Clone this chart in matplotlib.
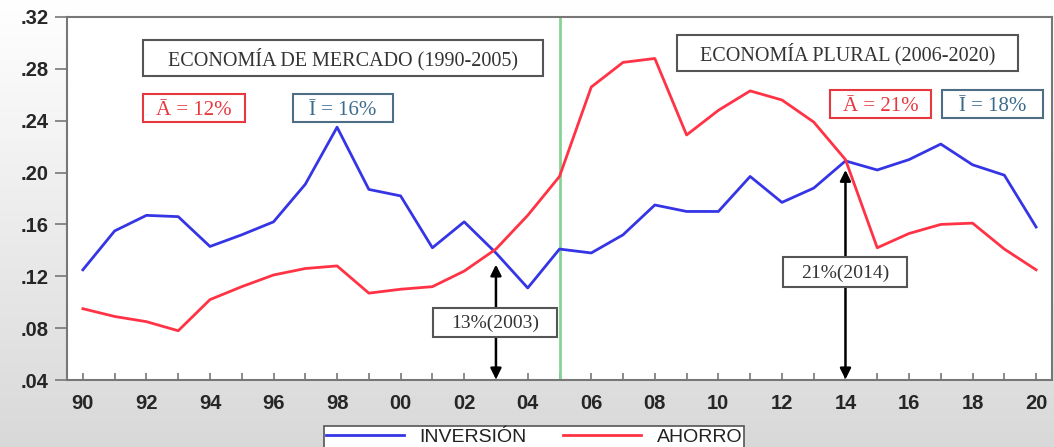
import matplotlib
matplotlib.use("Agg")
import matplotlib.pyplot as plt
import numpy as np
from matplotlib.patches import Rectangle

years = list(range(1990, 2021))
inversion = [0.125, 0.155, 0.167, 0.166, 0.143, 0.152, 0.162, 0.191, 0.235, 0.187,
             0.182, 0.142, 0.162, 0.138, 0.111, 0.141, 0.138, 0.152, 0.175, 0.170,
             0.170, 0.197, 0.177, 0.188, 0.209, 0.202, 0.210, 0.222, 0.206, 0.198, 0.158]
ahorro = [0.095, 0.089, 0.085, 0.078, 0.102, 0.112, 0.121, 0.126, 0.128, 0.107,
          0.110, 0.112, 0.124, 0.141, 0.167, 0.197, 0.266, 0.285, 0.288, 0.229,
          0.248, 0.263, 0.256, 0.239, 0.210, 0.142, 0.153, 0.160, 0.161, 0.141, 0.125]
yticks = [0.04, 0.08, 0.12, 0.16, 0.20, 0.24, 0.28, 0.32]
ytick_labels = [".04", ".08", ".12", ".16", ".20", ".24", ".28", ".32"]
xtick_years = list(range(1990, 2021, 2))
xtick_labels = ["90", "92", "94", "96", "98", "00", "02", "04", "06", "08",
                "10", "12", "14", "16", "18", "20"]
split_year = 2005
cross1 = (2003, 0.129, "13%(2003)")
cross2 = (2014, 0.202, "21%(2014)")

W, H = 1054, 447
fig = plt.figure(figsize=(W / 100, H / 100), dpi=100)

# gradient background
bg = fig.add_axes([0, 0, 1, 1], zorder=-10)
grad = np.linspace(1.0, 0.85, 256).reshape(-1, 1)
bg.imshow(np.dstack([grad, grad, grad]), aspect="auto", extent=[0, 1, 0, 1], origin="upper")
bg.axis("off")

L, R, T, B = 67, 1052, 17, 380
ax = fig.add_axes([L / W, 1 - B / H, (R - L) / W, (B - T) / H])
ax.set_facecolor("white")

blue = "#3535e6"
red = "#ff3345"
ax.plot(years, inversion, color=blue, lw=2.0, label="INVERSIÓN", zorder=3)
ax.plot(years, ahorro, color=red, lw=2.0, label="AHORRO", zorder=3)
ax.axvline(split_year, color="#86d396", lw=2.0, zorder=2)

ax.set_xlim(1989.5, 2020.5)
ax.set_ylim(0.04, 0.32)
ax.set_yticks(yticks)
ax.set_yticklabels(ytick_labels)
ax.set_xticks(xtick_years)
ax.set_xticklabels(xtick_labels)
ax.set_xticks(years, minor=True)
for lab in ax.get_xticklabels() + ax.get_yticklabels():
    lab.set_fontfamily("Liberation Sans")
    lab.set_fontweight("bold")
    lab.set_fontsize(14.5)
    lab.set_color("#262626")
ax.tick_params(axis="y", direction="out", length=9, width=1.2, color="#777777", pad=4)
ax.tick_params(axis="x", which="both", direction="in", length=5, width=1.2, color="#777777", pad=10)
for s in ax.spines.values():
    s.set_color("#777777")
    s.set_linewidth(1.5)


def px(x, y):
    return ((x - L) / (R - L), (B - y) / (B - T))


def box(x0, y0, x1, y1, text, tcolor, ecolor, fs, dy=0.0):
    a0 = px(x0, y1)
    a1 = px(x1, y0)
    ax.add_patch(Rectangle(a0, a1[0] - a0[0], a1[1] - a0[1], transform=ax.transAxes,
                           facecolor="white", edgecolor=ecolor, lw=1.5, zorder=5))
    cx, cy = px((x0 + x1) / 2, (y0 + y1) / 2 + dy)
    ax.text(cx, cy, text, transform=ax.transAxes, ha="center", va="center",
            fontsize=fs, family="Liberation Serif", color=tcolor, zorder=6)


# arrows
for yr, top, lab in [cross1, cross2]:
    ax.annotate("", xy=(yr, top), xytext=(yr, 0.0405),
                arrowprops=dict(arrowstyle="<|-|>", color="black", lw=1.8,
                                mutation_scale=16, shrinkA=0, shrinkB=0), zorder=4)

box(143, 40, 543, 76, "ECONOMÍA DE MERCADO (1990-2005)", "#333333", "#555555", 14.5, dy=1)
box(677, 35, 1018, 71, "ECONOMÍA PLURAL (2006-2020)", "#333333", "#555555", 14.5, dy=1)
box(143, 94, 245, 122, "Ā = 12%", "#e8383f", "#e8383f", 15, dy=3)
box(293, 94, 393, 122, "Ī = 16%", "#3d6b8c", "#4e6e85", 15, dy=3)
box(830, 90, 931, 118, "Ā = 21%", "#e8383f", "#e8383f", 15, dy=3)
box(942, 90, 1043, 118, "Ī = 18%", "#3d6b8c", "#4e6e85", 15, dy=3)
box(433, 308, 557, 337, cross1[2], "#333333", "#555555", 14, dy=1)
box(783, 257, 907, 287, cross2[2], "#333333", "#555555", 14, dy=1)

leg = fig.legend(loc="upper center", bbox_to_anchor=(534 / W, 1 - 426 / H), ncol=2,
                 frameon=True, fancybox=False, edgecolor="#555555", framealpha=1,
                 prop={"family": "Liberation Sans", "size": 14}, handlelength=4.0,
                 columnspacing=1.9, handletextpad=0.8, borderpad=0.1, borderaxespad=0)
leg.get_frame().set_linewidth(1.2)
for t in leg.get_texts():
    t.set_color("#222222")

fig.savefig("out.png", dpi=100)
